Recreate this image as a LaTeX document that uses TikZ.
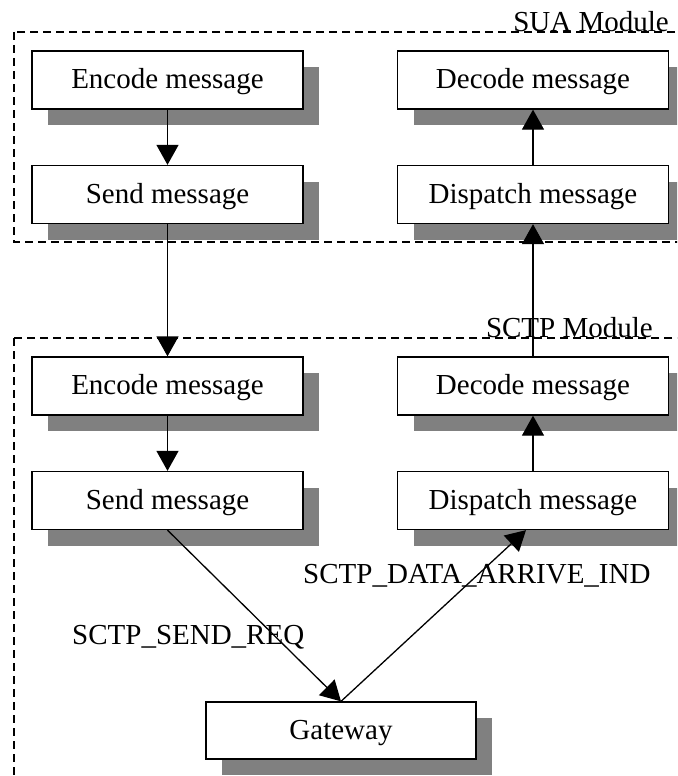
\documentclass[tikz,border=0pt]{standalone}
\usepackage{fontspec}
\setmainfont{Liberation Serif}
\usetikzlibrary{arrows.meta,shadows}

\tikzset{
  x=1pt, y=-1pt,
  every node/.style={font=\fontsize{29}{34}\selectfont},
  msgbox/.style={draw, line width=1.3pt, fill=white, inner sep=0pt,
    text height=17pt, text depth=0pt,
    minimum width=271pt, minimum height=58pt,
    drop shadow={shadow xshift=16pt, shadow yshift=-16pt, fill=black!50, opacity=1}},
  module/.style={draw, line width=1.6pt, dash pattern=on 8pt off 5pt},
  flow/.style={draw, line width=1.3pt, -{Triangle[length=20pt,width=22pt]}},
  modlabel/.style={anchor=base east, inner sep=0pt},
  siglabel/.style={anchor=base west, inner sep=0pt}
}

\begin{document}
\begin{tikzpicture}
\useasboundingbox (0,0) rectangle (677,776);
\clip (0,0) rectangle (677,776);

% module frames (their right and bottom sides lie beyond the page)
\draw[module] (14,32) rectangle (700,242);
\draw[module] (14,338) rectangle (700,800);

% SUA module
\node[msgbox] (enc1)  at (167.5,80)   {Encode message};
\node[msgbox] (send1) at (167.5,194.5) {Send message};
\node[msgbox] (dec1)  at (533,80)     {Decode message};
\node[msgbox] (disp1) at (533,194.5)  {Dispatch message};

% SCTP module
\node[msgbox] (enc2)  at (167.5,386)  {Encode message};
\node[msgbox] (send2) at (167.5,500.5) {Send message};
\node[msgbox] (dec2)  at (533,386)    {Decode message};
\node[msgbox] (disp2) at (533,500.5)  {Dispatch message};

% gateway
\node[msgbox, minimum width=270pt, minimum height=57pt] (gw) at (341,730.5) {Gateway};

% module titles
\node[modlabel] (sualbl)  at (669,32)  {SUA Module};
\node[modlabel] (sctplbl) at (653,337) {SCTP Module};

% signal names
\node[siglabel] (reqlbl) at (72,644)  {SCTP\_SEND\_REQ};
\node[siglabel] (indlbl) at (303,583) {SCTP\_DATA\_ARRIVE\_IND};

% message flow
\draw[flow] (enc1.south) -- (send1.north);
\draw[flow] (send1.south) -- (enc2.north);
\draw[flow] (enc2.south) -- (send2.north);
\draw[flow] (send2.south) -- (gw.north);
\draw[flow] (gw.north) -- ([xshift=-7pt]disp2.south);
\draw[flow] (disp2.north) -- (dec2.south);
\draw[flow] (dec2.north) -- (disp1.south);
\draw[flow] (disp1.north) -- (dec1.south);
\end{tikzpicture}
\end{document}
